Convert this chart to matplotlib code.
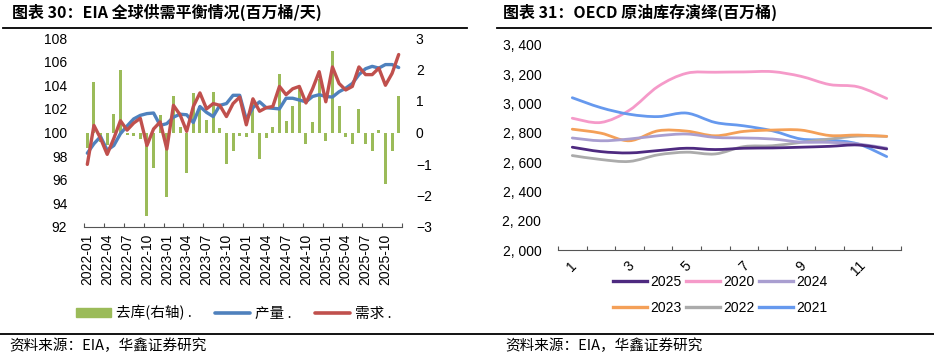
import matplotlib
matplotlib.use('Agg')
import matplotlib.pyplot as plt
from matplotlib.path import Path
from matplotlib.patches import PathPatch, Patch
from matplotlib.lines import Line2D
import numpy as np

plt.rcParams['font.family'] = ['Liberation Sans', 'Noto Sans CJK SC', 'DejaVu Sans']
plt.rcParams['axes.unicode_minus'] = True

# ---- left chart data: EIA global balance (2022-01 .. 2025-12)
months = [f'{y}-{m:02d}' for y in range(2022, 2026) for m in range(1, 13)]
draw = [-0.5, 1.6, -0.3, -0.4, 0.6, 2.0, -0.07, -0.1, -0.2, -2.65,
        -1.13, 0.55, -2.04, 1.16, 0.17, -1.3, 1.24, 0.85, 0.4, 1.27,
        0.14, -1.0, -0.58, -0.11, -0.13, 1.05, -0.85, -0.16, 0.18, 1.85,
        0.36, 0.85, 1.43, -0.37, 0.32, 1.69, -0.26, 2.59, 0.85, -0.14,
        -0.35, 0.74, -0.35, -0.58, 0.07, -1.62, -0.6, 1.16]
supply = [98.25, 99.05, 99.65, 98.5, 98.9, 99.9, 100.55, 101.15, 101.45, 101.6,
          101.65, 100.6, 100.75, 101.3, 101.55, 101.5, 100.85, 102.2, 101.7, 101.35,
          102.3, 102.45, 103.15, 103.15, 101.1, 102.1, 102.6, 102.1, 102.05, 102.0,
          102.9, 102.9, 102.75, 102.6, 103.05, 103.2, 103.05, 103.0, 103.45, 103.75,
          104.15, 104.9, 105.4, 105.6, 105.45, 105.75, 105.75, 105.5]
demand = [97.3, 100.6, 99.5, 98.15, 99.5, 101.0, 100.2, 100.8, 101.2, 98.9,
          100.3, 100.9, 98.6, 102.3, 101.5, 100.1, 102.2, 103.35, 102.0, 102.45,
          102.3, 101.35, 102.45, 103.0, 100.65, 102.85, 101.8, 102.1, 102.2, 103.9,
          103.2, 103.7, 103.9, 102.5, 103.7, 105.15, 102.6, 105.55, 104.15, 103.6,
          103.9, 105.55, 104.9, 104.9, 105.45, 104.0, 105.0, 106.6]

# ---- right chart data: OECD crude inventories by month
mon = list(range(1, 13))
stocks = {
    '2020': [2900, 2871, 2955, 3117, 3207, 3214, 3216, 3218, 3186, 3130, 3114, 3035],
    '2021': [3040, 2972, 2927, 2911, 2935, 2871, 2848, 2814, 2758, 2751, 2724, 2638],
    '2022': [2645, 2618, 2605, 2650, 2668, 2656, 2706, 2712, 2735, 2758, 2778, 2776],
    '2023': [2825, 2798, 2746, 2814, 2812, 2780, 2810, 2819, 2819, 2782, 2785, 2776],
    '2024': [2765, 2746, 2758, 2780, 2792, 2769, 2765, 2758, 2737, 2735, 2724, 2695],
    '2025': [2702, 2672, 2663, 2679, 2695, 2686, 2695, 2697, 2702, 2708, 2717, 2690],
}
colors = {'2020': '#F59AC9', '2021': '#6699EE', '2022': '#ABABAB',
          '2023': '#F4A058', '2024': '#A99ED0', '2025': '#4E2A80'}

W, H = 934, 359
fig = plt.figure(figsize=(W / 100, H / 100), dpi=100)


def box(x0, y0, x1, y1):
    return [x0 / W, 1 - y1 / H, (x1 - x0) / W, (y1 - y0) / H]


def hline(x0, x1, y, lw=1.3):
    fig.add_artist(Line2D([x0 / W, x1 / W], [1 - y / H, 1 - y / H], color='black', lw=lw))


cjk = ['Noto Sans CJK SC', 'DejaVu Sans']

# titles / footers
fig.text(12 / W, 1 - 12 / H, '图表 30：EIA 全球供需平衡情况(百万桶/天)', family=cjk,
         fontsize=11.5, fontweight='bold', va='center', ha='left')
fig.text(503 / W, 1 - 12 / H, '图表 31：OECD 原油库存演绎(百万桶)', family=cjk,
         fontsize=11.5, fontweight='bold', va='center', ha='left')
hline(3, 467, 28)
hline(497, 931, 28)
hline(0, 934, 334)
fig.text(9 / W, 1 - 346 / H, '资料来源：EIA，华鑫证券研究', family=cjk, fontsize=10.5,
         va='center', ha='left')
fig.text(505 / W, 1 - 346 / H, '资料来源：EIA，华鑫证券研究', family=cjk, fontsize=10.5,
         va='center', ha='left')

# ---------------- left chart
ax = fig.add_axes(box(84, 38, 402, 227))
ax2 = ax.twinx()
x = np.arange(len(months))
ax2.bar(x, draw, width=0.45, color='#9BBB59', zorder=1)
ax2.set_ylim(-3, 3)
ax2.set_yticks(range(-3, 4))
ax.plot(x, supply, color='#4F81BD', lw=2.4, solid_capstyle='round', zorder=3)
ax.plot(x, demand, color='#C0504D', lw=2.4, solid_capstyle='round', zorder=4)
ax.set_ylim(92, 108)
ax.set_yticks(range(92, 109, 2))
ax.set_xlim(-0.5, len(months) - 0.5)
ax.set_zorder(ax2.get_zorder() + 1)
ax.patch.set_visible(False)

for a in (ax, ax2):
    for s in a.spines.values():
        s.set_visible(False)
    a.tick_params(axis='y', length=0, labelsize=10, pad=12)
ax.spines['bottom'].set_visible(True)
ax.spines['bottom'].set_color('#555555')
ax.set_xticks(np.arange(-0.5, len(months), 3))
ax.set_xticklabels([])
ax.set_xticks(x[::3], minor=True)
ax.set_xticklabels(months[::3], minor=True, rotation=90)
ax.tick_params(axis='x', which='major', direction='in', length=3, color='#555555')
ax.tick_params(axis='x', which='minor', length=0, labelsize=10, pad=5)
ax2.tick_params(axis='x', length=0)
ax2.tick_params(axis='y', pad=10)

leg_handles = [Patch(color='#9BBB59'),
               Line2D([], [], color='#4F81BD', lw=2.6, solid_capstyle='round'),
               Line2D([], [], color='#C0504D', lw=2.6, solid_capstyle='round')]
fig.legend(leg_handles, ['去库(右轴) .', '产量 .', '需求 .'], prop={'family': cjk, 'size': 10.5},
           ncol=3, frameon=False, loc='center', bbox_to_anchor=(234 / W, 1 - 313 / H),
           handlelength=2.4, handleheight=0.55, columnspacing=1.6, handletextpad=0.35)

# ---------------- right chart
bx = fig.add_axes(box(558, 45, 901, 250))
xi = np.arange(len(mon))


def smooth(xs, ys):
    pts = np.column_stack([xs, ys]).astype(float)
    n = len(pts)
    verts = [pts[0]]
    codes = [Path.MOVETO]
    for i in range(n - 1):
        p0 = pts[i - 1] if i > 0 else pts[i]
        p1, p2 = pts[i], pts[i + 1]
        p3 = pts[i + 2] if i + 2 < n else pts[i + 1]
        verts += [p1 + (p2 - p0) / 6, p2 - (p3 - p1) / 6, p2]
        codes += [Path.CURVE4] * 3
    return Path(verts, codes)


for yr in ['2020', '2021', '2022', '2023', '2024', '2025']:
    bx.add_patch(PathPatch(smooth(xi, stocks[yr]), fill=False, edgecolor=colors[yr],
                           lw=2.0, capstyle='round'))

bx.set_xlim(-0.5, len(mon) - 0.5)
bx.set_ylim(2000, 3400)
bx.set_yticks(range(2000, 3401, 200))
bx.set_yticklabels([f'{v // 1000}, {v % 1000:03d}' for v in range(2000, 3401, 200)])
for s in bx.spines.values():
    s.set_visible(False)
bx.spines['bottom'].set_visible(True)
bx.spines['bottom'].set_color('#555555')
bx.tick_params(axis='y', length=0, labelsize=10, pad=12)
bx.set_xticks(np.arange(-0.5, len(mon), 1))
bx.set_xticklabels([])
bx.set_xticks(xi[::2], minor=True)
bx.set_xticklabels([str(m) for m in mon[::2]], minor=True, rotation=45)
bx.tick_params(axis='x', which='major', direction='in', length=3, color='#555555')
bx.tick_params(axis='x', which='minor', length=0, labelsize=10, pad=6)

order = ['2025', '2023', '2020', '2022', '2024', '2021']
fig.legend([Line2D([], [], color=colors[k], lw=2.4) for k in order], order,
           prop={'size': 10}, ncol=3, frameon=False, loc='center',
           bbox_to_anchor=(720 / W, 1 - 295 / H), handlelength=2.5,
           columnspacing=0.3, handletextpad=0.2, labelspacing=0.9)

fig.savefig('out.png', dpi=100)
